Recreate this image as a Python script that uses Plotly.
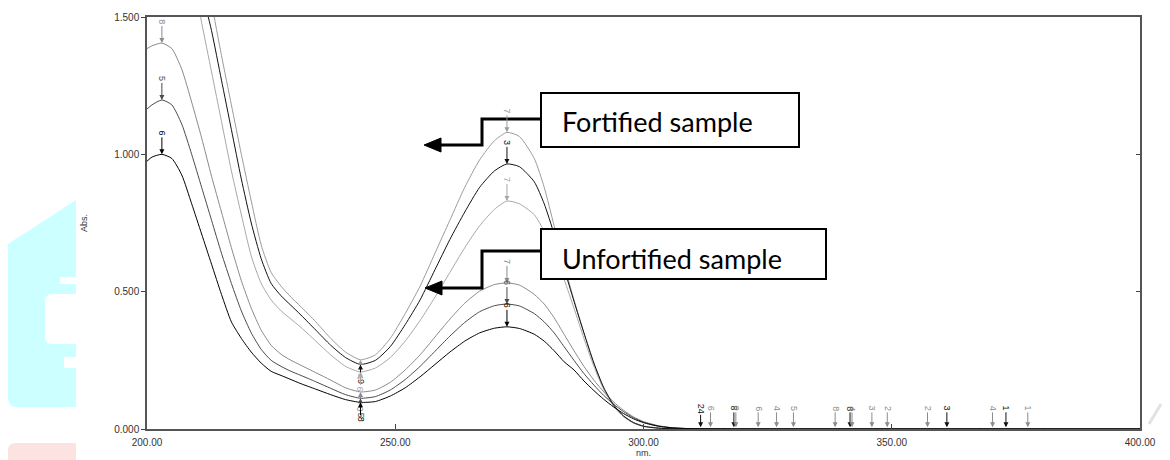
import plotly.graph_objects as go

# ---------------- data ----------------
nm = [200, 201, 203, 205, 207, 209, 211, 213, 215, 217, 219, 221, 223, 225, 227, 229, 231, 234, 237, 240,
      243, 246, 249, 252, 255, 258, 261, 264, 267, 270, 272.5, 275, 278, 280, 282, 284, 286, 288, 290, 292,
      294, 296, 298, 300, 303, 306, 310, 320, 340, 360, 380, 400]

# unfortified samples
U1 = [1.385, 1.395, 1.405, 1.385, 1.31, 1.19, 1.06, 0.92, 0.79, 0.66, 0.54, 0.44, 0.36, 0.305, 0.272, 0.25, 0.232, 0.205, 0.178, 0.15,
      0.135, 0.142, 0.17, 0.215, 0.27, 0.335, 0.40, 0.458, 0.502, 0.526, 0.532, 0.524, 0.49, 0.455, 0.405, 0.345, 0.285, 0.228, 0.178, 0.135,
      0.098, 0.068, 0.044, 0.027, 0.012, 0.004, 0.001, 0, 0, 0, 0, 0]
U2 = [1.165, 1.18, 1.198, 1.18, 1.11, 1.00, 0.88, 0.76, 0.64, 0.53, 0.43, 0.35, 0.29, 0.25, 0.228, 0.21, 0.195, 0.172, 0.148, 0.125,
      0.112, 0.118, 0.142, 0.18, 0.228, 0.283, 0.338, 0.388, 0.427, 0.449, 0.455, 0.448, 0.42, 0.39, 0.35, 0.30, 0.25, 0.202, 0.16, 0.122,
      0.09, 0.063, 0.041, 0.025, 0.011, 0.004, 0.001, 0, 0, 0, 0, 0]
U3 = [0.975, 0.99, 1.00, 0.985, 0.925, 0.82, 0.71, 0.60, 0.49, 0.39, 0.33, 0.28, 0.24, 0.21, 0.195, 0.18, 0.165, 0.145, 0.125, 0.107,
      0.097, 0.10, 0.12, 0.15, 0.19, 0.235, 0.28, 0.32, 0.35, 0.367, 0.372, 0.366, 0.345, 0.32, 0.285, 0.245, 0.215, 0.175, 0.14, 0.108,
      0.08, 0.056, 0.037, 0.023, 0.01, 0.004, 0.001, 0, 0, 0, 0, 0]
# fortified samples
F1 = [2.7, 2.62, 2.46, 2.3, 2.12, 1.92, 1.73, 1.55, 1.36, 1.18, 1.0, 0.83, 0.67, 0.57, 0.52, 0.48, 0.445, 0.39, 0.33, 0.28,
      0.252, 0.27, 0.33, 0.42, 0.52, 0.64, 0.76, 0.88, 0.98, 1.05, 1.08, 1.065, 0.985, 0.88, 0.74, 0.60, 0.47, 0.35, 0.24, 0.15,
      0.088, 0.048, 0.024, 0.011, 0.004, 0.001, 0, 0, 0, 0, 0, 0]
F2 = [2.55, 2.47, 2.31, 2.15, 1.97, 1.78, 1.6, 1.45, 1.27, 1.09, 0.91, 0.75, 0.62, 0.53, 0.485, 0.45, 0.415, 0.36, 0.305, 0.26,
      0.235, 0.25, 0.30, 0.38, 0.47, 0.58, 0.69, 0.79, 0.88, 0.94, 0.965, 0.955, 0.90, 0.82, 0.71, 0.585, 0.465, 0.35, 0.24, 0.15,
      0.087, 0.047, 0.023, 0.01, 0.003, 0.001, 0, 0, 0, 0, 0, 0]
F3 = [2.45, 2.37, 2.2, 2.03, 1.85, 1.67, 1.48, 1.3, 1.12, 0.94, 0.78, 0.63, 0.53, 0.47, 0.43, 0.40, 0.37, 0.32, 0.27, 0.228,
      0.208, 0.222, 0.26, 0.32, 0.395, 0.48, 0.57, 0.66, 0.74, 0.80, 0.83, 0.82, 0.78, 0.72, 0.64, 0.545, 0.44, 0.33, 0.228, 0.143,
      0.082, 0.044, 0.021, 0.009, 0.003, 0.001, 0, 0, 0, 0, 0, 0]

series = {"U1": U1, "U2": U2, "U3": U3, "F1": F1, "F2": F2, "F3": F3}
series_color = {"U1": "#8a8a8a", "U2": "#4a4a4a", "U3": "#000000",
                "F1": "#9c9c9c", "F2": "#111111", "F3": "#a8a8a8"}

# peak picks
peak_nm = [203, 203, 203, 272.5, 272.5, 272.5, 272.5, 272.5, 272.5]
peak_curve = ["U1", "U2", "U3", "F1", "F2", "F3", "U1", "U2", "U3"]
peak_text = ["8", "5", "6", "7", "3", "7", "7", "6", "6"]
# valley picks
valley_nm = [243, 243, 243, 243, 243, 243]
valley_curve = ["F1", "F2", "F3", "U1", "U2", "U3"]
valley_text = ["4", "9", "6", "0", "5", "8"]
# noise picks on the baseline
noise_nm = [311.5, 313.5, 318.2, 318.6, 323.1, 326.8, 330.2, 338.6, 341.6, 342.0, 346.0, 349.1, 357.2, 361.1, 370.3, 373.0, 377.4]
noise_text = ["24", "6", "8", "0", "6", "4", "5", "8", "8", "4", "3", "2", "2", "3", "4", "1", "1"]
noise_dark = [1, 0, 1, 0, 0, 0, 0, 0, 1, 0, 0, 0, 0, 1, 0, 1, 0]
noise_level = 0.006

x_ticks = [200, 250, 300, 350, 400]
y_ticks = [0.0, 0.5, 1.0, 1.5]

callout_text = ["Fortified sample", "Unfortified sample"]

# ---------------- layout geometry ----------------
W, H = 1170, 460
L, R, T, B = 147, 30, 17, 31
PW, PH = W - L - R, H - T - B


def pxx(x):
    return (x - L) / PW


def pxy(y):
    return (H - B - y) / PH


def path_of(cmds):
    out = []
    for c in cmds:
        op, pts = c[0], c[1:]
        out.append(op + " " + " ".join("{},{}".format(pxx(a), pxy(b)) for a, b in pts))
    return " ".join(out) + " Z"


fig = go.Figure()
for key in ["F1", "F3", "U1", "U2", "F2", "U3"]:
    fig.add_trace(go.Scatter(x=nm, y=series[key], mode="lines",
                             line=dict(color=series_color[key], width=1, shape="spline", smoothing=0.6),
                             showlegend=False, hoverinfo="skip"))
# helper trace for the mirrored right axis ticks
fig.add_trace(go.Scatter(x=nm[:1], y=U3[:1], mode="lines", yaxis="y2", opacity=0,
                         showlegend=False, hoverinfo="skip"))


def value_at(key, w):
    return series[key][nm.index(w)]


annotations = []
for w, c, t in zip(peak_nm, peak_curve, peak_text):
    col = series_color[c]
    annotations.append(dict(x=w, y=value_at(c, w), text=t, textangle=90, showarrow=True,
                            arrowhead=2, arrowsize=1, arrowwidth=1, arrowcolor=col, ax=0, ay=-21,
                            font=dict(size=9, color=col, family="Liberation Sans"), standoff=0))
for w, c, t in zip(valley_nm, valley_curve, valley_text):
    col = series_color[c]
    annotations.append(dict(x=w, y=value_at(c, w), text=t, textangle=90, showarrow=True,
                            arrowhead=2, arrowsize=1, arrowwidth=1, arrowcolor=col, ax=0, ay=17,
                            font=dict(size=9, color=col, family="Liberation Sans"), standoff=0))
for w, t, d in zip(noise_nm, noise_text, noise_dark):
    col = "#111111" if d else "#8c8c8c"
    annotations.append(dict(x=w, y=noise_level, text=t, textangle=90, showarrow=True,
                            arrowhead=2, arrowsize=1, arrowwidth=1, arrowcolor=col, ax=0, ay=-19,
                            font=dict(size=9, color=col, family="Liberation Sans"), standoff=0))

# axis titles
annotations.append(dict(xref="paper", yref="paper", x=pxx(84), y=0.5, text="Abs.", textangle=-90,
                        xanchor="center", yanchor="middle",
                        showarrow=False, font=dict(size=9, color="#333", family="Liberation Sans")))
annotations.append(dict(xref="paper", yref="paper", x=0.5, y=pxy(453), text="nm.",
                        xanchor="center", yanchor="middle",
                        showarrow=False, font=dict(size=9, color="#333", family="Liberation Sans")))

# callout texts
callout_pos = [(560, 121), (560, 258)]
for (cx, cy), t in zip(callout_pos, callout_text):
    annotations.append(dict(xref="paper", yref="paper", x=pxx(cx), y=pxy(cy), xanchor="left", yanchor="middle",
                            text=t, showarrow=False, font=dict(size=27, color="#000", family="Lato")))

shapes = []
# left watermark decorations
shapes.append(dict(type="path", xref="paper", yref="paper", layer="below",
                   path=path_of([("M", (8, 244)), ("L", (76, 200)), ("L", (76, 407)), ("L", (16, 407)),
                                 ("Q", (8, 407), (8, 398))]),
                   fillcolor="#ccffff", line=dict(width=0)))
shapes.append(dict(type="path", xref="paper", yref="paper", layer="below",
                   path=path_of([("M", (76, 294)), ("L", (76, 344)), ("L", (52, 344)),
                                 ("Q", (45, 344), (45, 336)), ("L", (45, 302)), ("Q", (45, 294), (52, 294))]),
                   fillcolor="#ffffff", line=dict(width=0)))
shapes.append(dict(type="rect", xref="paper", yref="paper", layer="below",
                   x0=pxx(60), x1=pxx(76), y0=pxy(284), y1=pxy(277), fillcolor="#ffffff", line=dict(width=0)))
shapes.append(dict(type="rect", xref="paper", yref="paper", layer="below",
                   x0=pxx(64), x1=pxx(76), y0=pxy(368), y1=pxy(357), fillcolor="#ffffff", line=dict(width=0)))
shapes.append(dict(type="path", xref="paper", yref="paper", layer="below",
                   path=path_of([("M", (8, 460)), ("L", (76, 460)), ("L", (76, 443)), ("L", (16, 443)),
                                 ("Q", (8, 443), (8, 451))]),
                   fillcolor="#fde2e2", line=dict(width=0)))
shapes.append(dict(type="line", xref="paper", yref="paper", layer="below",
                   x0=pxx(1149), y0=pxy(424), x1=pxx(1161), y1=pxy(404),
                   line=dict(color="#e2e2e2", width=3)))

# callout boxes and elbow arrows
boxes = [(541, 93, 799, 147), (541, 229, 826, 279)]
elbows = [((541, 119), (482, 119), (482, 145), (440, 145)), ((541, 251), (482, 251), (482, 288), (441, 288))]
tips = [(424, 145), (425, 288)]
for (x0, y0, x1, y1) in boxes:
    shapes.append(dict(type="rect", xref="paper", yref="paper", layer="above",
                       x0=pxx(x0), x1=pxx(x1), y0=pxy(y1), y1=pxy(y0),
                       fillcolor="#ffffff", line=dict(color="#000", width=2)))
for pts in elbows:
    path = "M " + " L ".join("{},{}".format(pxx(a), pxy(b)) for a, b in pts)
    shapes.append(dict(type="path", xref="paper", yref="paper", layer="above", path=path,
                       line=dict(color="#000", width=3)))
for (tx, ty) in tips:
    shapes.append(dict(type="path", xref="paper", yref="paper", layer="above",
                       path=path_of([("M", (tx, ty)), ("L", (tx + 17, ty - 7)), ("L", (tx + 17, ty + 7))]),
                       fillcolor="#000", line=dict(color="#000", width=1)))

fig.update_layout(
    width=W, height=H,
    margin=dict(l=L, r=R, t=T, b=B, pad=0),
    paper_bgcolor="#ffffff", plot_bgcolor="#ffffff",
    showlegend=False,
    xaxis=dict(range=[200, 400], tickvals=x_ticks, ticktext=["{:.2f}".format(v) for v in x_ticks],
               showgrid=False, zeroline=False, showline=True, linecolor="#555", linewidth=1.5,
               mirror=True, ticks="inside", ticklen=5, tickcolor="#444", tickwidth=1,
               tickfont=dict(size=10, color="#333", family="Liberation Sans"), ticklabelstandoff=3),
    yaxis=dict(range=[0, 1.5], tickvals=y_ticks, ticktext=["{:.3f}".format(v) for v in y_ticks],
               showgrid=False, zeroline=False, showline=True, linecolor="#555", linewidth=1.5,
               mirror=True, ticks="outside", ticklen=4, tickcolor="#444", tickwidth=1,
               tickfont=dict(size=10, color="#333", family="Liberation Sans"), ticklabelstandoff=0),
    yaxis2=dict(range=[0, 1.5], overlaying="y", side="right", tickvals=y_ticks, showticklabels=False,
                showgrid=False, zeroline=False, showline=False, ticks="inside", ticklen=4,
                tickcolor="#444", tickwidth=1),
    annotations=annotations,
    shapes=shapes,
)

fig.write_html("out.html")
